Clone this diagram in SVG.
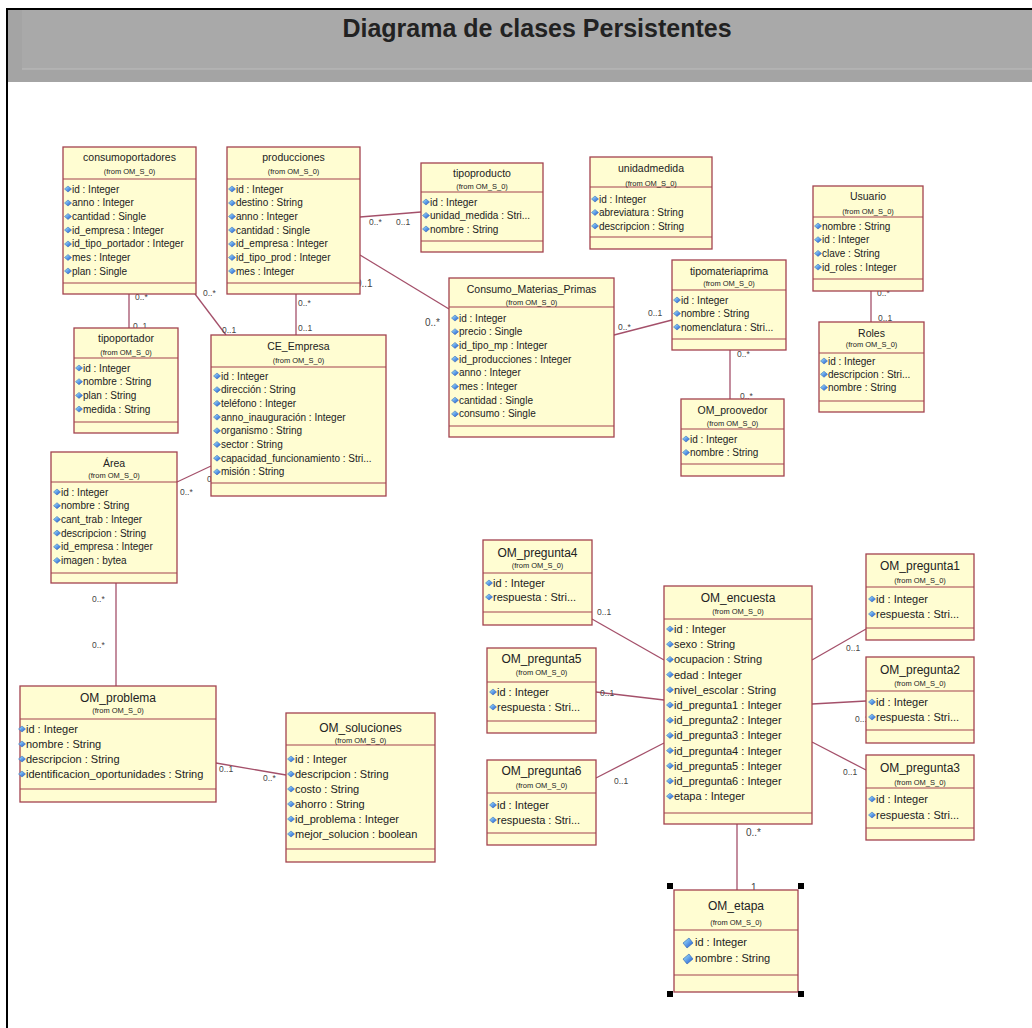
<svg xmlns="http://www.w3.org/2000/svg" xmlns:xlink="http://www.w3.org/1999/xlink" width="1032" height="1028" viewBox="0 0 1032 1028">
<style>
text{font-family:"Liberation Sans",Arial,sans-serif;fill:#222}
.box{fill:#fffdd2;stroke:#a3424f;stroke-width:1.3}
.sep{stroke:#a3424f;stroke-width:1.2}
.nm{font-size:10.5px;text-anchor:middle}
.nm2{font-size:12px;text-anchor:middle}
.fr{font-size:7.5px;text-anchor:middle}
.at{font-size:10px}
.at2{font-size:11px}
.ml{font-size:8.5px;fill:#444}
.ml2{font-size:10px;fill:#444}
#connectors line{stroke:#a4506a;stroke-width:1.3}
</style>
<defs>
<linearGradient id="dg" x1="0" y1="0" x2="1" y2="1">
<stop offset="0" stop-color="#a8f0ff"/>
<stop offset="1" stop-color="#1a4fd0"/>
</linearGradient>
<path id="dia" d="M0,-3 L3.5,0 L0,3 L-3.5,0 Z" fill="url(#dg)" stroke="#2a5fb0" stroke-width="0.5"/>
<path id="diaB" d="M1,-5 L5,0 L-1,5 L-5,0 Z" fill="url(#dg)" stroke="#2a5fb0" stroke-width="0.6"/>
</defs>

<rect x="0" y="0" width="1032" height="1028" fill="#ffffff"/>
<rect x="7" y="8" width="1025" height="74" fill="#a4a4a4"/>
<rect x="22" y="10" width="1010" height="59" fill="#a9a9a9"/>
<line x1="22" y1="69" x2="1032" y2="69" stroke="#bdbdbd" stroke-width="1"/>
<line x1="6" y1="9" x2="1032" y2="9" stroke="#000" stroke-width="2"/>
<line x1="7" y1="8" x2="7" y2="1028" stroke="#000" stroke-width="2"/>
<text x="537" y="37" font-size="25" font-weight="bold" text-anchor="middle" fill="#000">Diagrama de clases Persistentes</text>

<g id="connectors">
<line x1="129" y1="294" x2="129" y2="328"/>
<line x1="195" y1="294" x2="226" y2="335"/>
<line x1="296" y1="294" x2="296" y2="335"/>
<line x1="360" y1="217" x2="421" y2="212"/>
<line x1="360" y1="255" x2="449" y2="309"/>
<line x1="614" y1="335" x2="672" y2="320"/>
<line x1="730" y1="350" x2="730" y2="399"/>
<line x1="871" y1="291" x2="871" y2="322"/>
<line x1="177" y1="482" x2="211" y2="466"/>
<line x1="116" y1="583" x2="116" y2="686"/>
<line x1="216" y1="763" x2="286" y2="775"/>
<line x1="592" y1="619" x2="664" y2="660"/>
<line x1="596" y1="692" x2="664" y2="700"/>
<line x1="596" y1="778" x2="664" y2="743"/>
<line x1="812" y1="660" x2="866" y2="629"/>
<line x1="812" y1="704" x2="866" y2="701"/>
<line x1="812" y1="742" x2="866" y2="770"/>
<line x1="737" y1="824" x2="737" y2="890"/>
<text class="ml" x="135" y="300">0..*</text>
<text class="ml" x="133" y="329">0..1</text>
<text class="ml" x="203" y="296">0..*</text>
<text class="ml" x="222" y="333">0..1</text>
<text class="ml" x="298" y="306">0..*</text>
<text class="ml" x="298" y="331">0..1</text>
<text class="ml" x="369" y="225">0..*</text>
<text class="ml" x="396" y="225">0..1</text>
<text class="ml2" x="356" y="287">0..1</text>
<text class="ml2" x="425" y="326">0..*</text>
<text class="ml" x="618" y="330">0..*</text>
<text class="ml" x="648" y="316">0..1</text>
<text class="ml" x="737" y="357">0..*</text>
<text class="ml" x="740" y="399">0..*</text>
<text class="ml" x="877" y="296">0..*</text>
<text class="ml" x="878" y="321">0..1</text>
<text class="ml" x="180" y="495">0..*</text>
<text class="ml" x="207" y="482">0..1</text>
<text class="ml" x="92" y="602">0..*</text>
<text class="ml" x="92" y="648">0..*</text>
<text class="ml" x="219" y="772">0..1</text>
<text class="ml" x="263" y="781">0..*</text>
<text class="ml" x="597" y="615">0..1</text>
<text class="ml" x="600" y="696">0..1</text>
<text class="ml" x="614" y="784">0..1</text>
<text class="ml" x="846" y="651">0..1</text>
<text class="ml" x="855" y="722">0..1</text>
<text class="ml" x="843" y="775">0..1</text>
<text class="ml2" x="746" y="836">0..*</text>
<text class="ml2" x="751" y="891">1</text>
</g>

<g id="consumoportadores">
<rect class="box" x="63" y="147" width="133" height="147"/>
<line class="sep" x1="63" y1="179" x2="196" y2="179"/>
<line class="sep" x1="63" y1="283" x2="196" y2="283"/>
<text class="nm" x="129.5" y="161">consumoportadores</text>
<text class="fr" x="129.5" y="174">(from OM_S_0)</text>
<use href="#dia" x="68" y="189"/><text class="at" x="72" y="192.5">id : Integer</text>
<use href="#dia" x="68" y="203"/><text class="at" x="72" y="206.2">anno : Integer</text>
<use href="#dia" x="68" y="216.5"/><text class="at" x="72" y="219.9">cantidad : Single</text>
<use href="#dia" x="68" y="230"/><text class="at" x="72" y="233.6">id_empresa : Integer</text>
<use href="#dia" x="68" y="244"/><text class="at" x="72" y="247.3">id_tipo_portador : Integer</text>
<use href="#dia" x="68" y="257.5"/><text class="at" x="72" y="261">mes : Integer</text>
<use href="#dia" x="68" y="271"/><text class="at" x="72" y="274.7">plan : Single</text>
</g>

<g id="producciones">
<rect class="box" x="227" y="147" width="133" height="147"/>
<line class="sep" x1="227" y1="179" x2="360" y2="179"/>
<line class="sep" x1="227" y1="283" x2="360" y2="283"/>
<text class="nm" x="293.5" y="161">producciones</text>
<text class="fr" x="293.5" y="174">(from OM_S_0)</text>
<use href="#dia" x="232" y="189"/><text class="at" x="236" y="192.5">id : Integer</text>
<use href="#dia" x="232" y="203"/><text class="at" x="236" y="206.2">destino : String</text>
<use href="#dia" x="232" y="216.5"/><text class="at" x="236" y="219.9">anno : Integer</text>
<use href="#dia" x="232" y="230"/><text class="at" x="236" y="233.6">cantidad : Single</text>
<use href="#dia" x="232" y="244"/><text class="at" x="236" y="247.3">id_empresa : Integer</text>
<use href="#dia" x="232" y="257.5"/><text class="at" x="236" y="261">id_tipo_prod : Integer</text>
<use href="#dia" x="232" y="271"/><text class="at" x="236" y="274.7">mes : Integer</text>
</g>

<g id="tipoproducto">
<rect class="box" x="421" y="163" width="122" height="89"/>
<line class="sep" x1="421" y1="192" x2="543" y2="192"/>
<line class="sep" x1="421" y1="241" x2="543" y2="241"/>
<text class="nm" x="482" y="177">tipoproducto</text>
<text class="fr" x="482" y="189">(from OM_S_0)</text>
<use href="#dia" x="426" y="202"/><text class="at" x="430" y="205.5">id : Integer</text>
<use href="#dia" x="426" y="215.5"/><text class="at" x="430" y="219">unidad_medida : Stri...</text>
<use href="#dia" x="426" y="229"/><text class="at" x="430" y="232.5">nombre : String</text>
</g>

<g id="unidadmedida">
<rect class="box" x="590" y="157" width="122" height="92"/>
<line class="sep" x1="590" y1="187" x2="712" y2="187"/>
<line class="sep" x1="590" y1="237" x2="712" y2="237"/>
<text class="nm" x="651" y="172">unidadmedida</text>
<text class="fr" x="651" y="186">(from OM_S_0)</text>
<use href="#dia" x="595" y="199"/><text class="at" x="599" y="202.5">id : Integer</text>
<use href="#dia" x="595" y="212.5"/><text class="at" x="599" y="216">abreviatura : String</text>
<use href="#dia" x="595" y="226"/><text class="at" x="599" y="229.5">descripcion : String</text>
</g>

<g id="Usuario">
<rect class="box" x="813" y="186" width="110" height="105"/>
<line class="sep" x1="813" y1="217" x2="923" y2="217"/>
<line class="sep" x1="813" y1="279" x2="923" y2="279"/>
<text class="nm" x="868" y="200">Usuario</text>
<text class="fr" x="868" y="214">(from OM_S_0)</text>
<use href="#dia" x="818" y="226"/><text class="at" x="822" y="229.5">nombre : String</text>
<use href="#dia" x="818" y="239.7"/><text class="at" x="822" y="243.2">id : Integer</text>
<use href="#dia" x="818" y="253.4"/><text class="at" x="822" y="256.9">clave : String</text>
<use href="#dia" x="818" y="267.1"/><text class="at" x="822" y="270.6">id_roles : Integer</text>
</g>

<g id="Roles">
<rect class="box" x="819" y="322" width="105" height="90"/>
<line class="sep" x1="819" y1="353" x2="924" y2="353"/>
<line class="sep" x1="819" y1="401" x2="924" y2="401"/>
<text class="nm" x="871.5" y="337">Roles</text>
<text class="fr" x="871.5" y="347">(from OM_S_0)</text>
<use href="#dia" x="824" y="361"/><text class="at" x="828" y="364.5">id : Integer</text>
<use href="#dia" x="824" y="374.3"/><text class="at" x="828" y="377.8">descripcion : Stri...</text>
<use href="#dia" x="824" y="387.5"/><text class="at" x="828" y="391">nombre : String</text>
</g>

<g id="tipomateriaprima">
<rect class="box" x="672" y="260" width="114" height="90"/>
<line class="sep" x1="672" y1="290" x2="786" y2="290"/>
<line class="sep" x1="672" y1="339" x2="786" y2="339"/>
<text class="nm" x="729" y="275">tipomateriaprima</text>
<text class="fr" x="729" y="286">(from OM_S_0)</text>
<use href="#dia" x="677" y="300"/><text class="at" x="681" y="303.5">id : Integer</text>
<use href="#dia" x="677" y="313.5"/><text class="at" x="681" y="317">nombre : String</text>
<use href="#dia" x="677" y="327"/><text class="at" x="681" y="330.5">nomenclatura : Stri...</text>
</g>

<g id="Consumo_Materias_Primas">
<rect class="box" x="449" y="278" width="165" height="159"/>
<line class="sep" x1="449" y1="307" x2="614" y2="307"/>
<line class="sep" x1="449" y1="426" x2="614" y2="426"/>
<text class="nm" x="531.5" y="293">Consumo_Materias_Primas</text>
<text class="fr" x="531.5" y="305">(from OM_S_0)</text>
<use href="#dia" x="455" y="318"/><text class="at" x="459" y="321.5">id : Integer</text>
<use href="#dia" x="455" y="331.7"/><text class="at" x="459" y="335.2">precio : Single</text>
<use href="#dia" x="455" y="345.4"/><text class="at" x="459" y="348.9">id_tipo_mp : Integer</text>
<use href="#dia" x="455" y="359.1"/><text class="at" x="459" y="362.6">id_producciones : Integer</text>
<use href="#dia" x="455" y="372.8"/><text class="at" x="459" y="376.3">anno : Integer</text>
<use href="#dia" x="455" y="386.5"/><text class="at" x="459" y="390">mes : Integer</text>
<use href="#dia" x="455" y="400.2"/><text class="at" x="459" y="403.7">cantidad : Single</text>
<use href="#dia" x="455" y="413.9"/><text class="at" x="459" y="417.4">consumo : Single</text>
</g>

<g id="OM_proovedor">
<rect class="box" x="681" y="399" width="103" height="77"/>
<line class="sep" x1="681" y1="429" x2="784" y2="429"/>
<line class="sep" x1="681" y1="464" x2="784" y2="464"/>
<text class="nm" x="732.5" y="414">OM_proovedor</text>
<text class="fr" x="732.5" y="426">(from OM_S_0)</text>
<use href="#dia" x="686" y="439"/><text class="at" x="690" y="442.5">id : Integer</text>
<use href="#dia" x="686" y="452.5"/><text class="at" x="690" y="456">nombre : String</text>
</g>

<g id="tipoportador">
<rect class="box" x="74" y="328" width="104" height="105"/>
<line class="sep" x1="74" y1="358" x2="178" y2="358"/>
<line class="sep" x1="74" y1="422" x2="178" y2="422"/>
<text class="nm" x="126" y="342">tipoportador</text>
<text class="fr" x="126" y="355">(from OM_S_0)</text>
<use href="#dia" x="79" y="368"/><text class="at" x="83" y="371.5">id : Integer</text>
<use href="#dia" x="79" y="381.7"/><text class="at" x="83" y="385.2">nombre : String</text>
<use href="#dia" x="79" y="395.4"/><text class="at" x="83" y="398.9">plan : String</text>
<use href="#dia" x="79" y="409.1"/><text class="at" x="83" y="412.6">medida : String</text>
</g>

<g id="CE_Empresa">
<rect class="box" x="211" y="335" width="175" height="161"/>
<line class="sep" x1="211" y1="367" x2="386" y2="367"/>
<line class="sep" x1="211" y1="483" x2="386" y2="483"/>
<text class="nm" x="298.5" y="350" font-size="11.5">CE_Empresa</text>
<text class="fr" x="298.5" y="363">(from OM_S_0)</text>
<use href="#dia" x="217" y="376"/><text class="at" x="221" y="379.5" font-size="10.5">id : Integer</text>
<use href="#dia" x="217" y="389.7"/><text class="at" x="221" y="393.2" font-size="10.5">dirección : String</text>
<use href="#dia" x="217" y="403.4"/><text class="at" x="221" y="406.9" font-size="10.5">teléfono : Integer</text>
<use href="#dia" x="217" y="417.1"/><text class="at" x="221" y="420.6" font-size="10.5">anno_inauguración : Integer</text>
<use href="#dia" x="217" y="430.8"/><text class="at" x="221" y="434.3" font-size="10.5">organismo : String</text>
<use href="#dia" x="217" y="444.5"/><text class="at" x="221" y="448" font-size="10.5">sector : String</text>
<use href="#dia" x="217" y="458.2"/><text class="at" x="221" y="461.7" font-size="10.5">capacidad_funcionamiento : Stri...</text>
<use href="#dia" x="217" y="471.9"/><text class="at" x="221" y="475.4" font-size="10.5">misión : String</text>
</g>

<g id="Area">
<rect class="box" x="51" y="452" width="126" height="131"/>
<line class="sep" x1="51" y1="482" x2="177" y2="482"/>
<line class="sep" x1="51" y1="573" x2="177" y2="573"/>
<text class="nm" x="114" y="467">Área</text>
<text class="fr" x="114" y="478">(from OM_S_0)</text>
<use href="#dia" x="57" y="492"/><text class="at" x="61" y="495.5">id : Integer</text>
<use href="#dia" x="57" y="505.7"/><text class="at" x="61" y="509.2">nombre : String</text>
<use href="#dia" x="57" y="519.4"/><text class="at" x="61" y="522.9">cant_trab : Integer</text>
<use href="#dia" x="57" y="533.1"/><text class="at" x="61" y="536.6">descripcion : String</text>
<use href="#dia" x="57" y="546.8"/><text class="at" x="61" y="550.3">id_empresa : Integer</text>
<use href="#dia" x="57" y="560.5"/><text class="at" x="61" y="564">imagen : bytea</text>
</g>

<g id="OM_problema">
<rect class="box" x="20" y="686" width="196" height="116"/>
<line class="sep" x1="20" y1="719" x2="216" y2="719"/>
<line class="sep" x1="20" y1="789" x2="216" y2="789"/>
<text class="nm2" x="118" y="701.5">OM_problema</text>
<text class="fr" x="118" y="713">(from OM_S_0)</text>
<use href="#dia" x="22" y="729"/><text class="at2" x="26" y="733">id : Integer</text>
<use href="#dia" x="22" y="744"/><text class="at2" x="26" y="748">nombre : String</text>
<use href="#dia" x="22" y="759"/><text class="at2" x="26" y="763">descripcion : String</text>
<use href="#dia" x="22" y="774"/><text class="at2" x="26" y="778">identificacion_oportunidades : String</text>
</g>

<g id="OM_soluciones">
<rect class="box" x="286" y="713" width="149" height="149"/>
<line class="sep" x1="286" y1="745" x2="435" y2="745"/>
<line class="sep" x1="286" y1="849" x2="435" y2="849"/>
<text class="nm2" x="360.5" y="731.5">OM_soluciones</text>
<text class="fr" x="360.5" y="743">(from OM_S_0)</text>
<use href="#dia" x="291" y="759"/><text class="at2" x="295" y="763">id : Integer</text>
<use href="#dia" x="291" y="774"/><text class="at2" x="295" y="778">descripcion : String</text>
<use href="#dia" x="291" y="789"/><text class="at2" x="295" y="793">costo : String</text>
<use href="#dia" x="291" y="804"/><text class="at2" x="295" y="808">ahorro : String</text>
<use href="#dia" x="291" y="819"/><text class="at2" x="295" y="823">id_problema : Integer</text>
<use href="#dia" x="291" y="834"/><text class="at2" x="295" y="838">mejor_solucion : boolean</text>
</g>

<g id="OM_pregunta4">
<rect class="box" x="483" y="540" width="109" height="85"/>
<line class="sep" x1="483" y1="573" x2="592" y2="573"/>
<line class="sep" x1="483" y1="612" x2="592" y2="612"/>
<text class="nm2" x="537.5" y="556.5">OM_pregunta4</text>
<text class="fr" x="537.5" y="568">(from OM_S_0)</text>
<use href="#dia" x="489" y="583"/><text class="at2" x="493" y="587">id : Integer</text>
<use href="#dia" x="489" y="597"/><text class="at2" x="493" y="601">respuesta : Stri...</text>
</g>

<g id="OM_pregunta5">
<rect class="box" x="487" y="648" width="109" height="85"/>
<line class="sep" x1="487" y1="682" x2="596" y2="682"/>
<line class="sep" x1="487" y1="721" x2="596" y2="721"/>
<text class="nm2" x="541.5" y="662.5">OM_pregunta5</text>
<text class="fr" x="541.5" y="675">(from OM_S_0)</text>
<use href="#dia" x="493" y="692"/><text class="at2" x="497" y="696">id : Integer</text>
<use href="#dia" x="493" y="707"/><text class="at2" x="497" y="711">respuesta : Stri...</text>
</g>

<g id="OM_pregunta6">
<rect class="box" x="487" y="760" width="109" height="85"/>
<line class="sep" x1="487" y1="793" x2="596" y2="793"/>
<line class="sep" x1="487" y1="833" x2="596" y2="833"/>
<text class="nm2" x="541.5" y="774.5">OM_pregunta6</text>
<text class="fr" x="541.5" y="788">(from OM_S_0)</text>
<use href="#dia" x="493" y="805"/><text class="at2" x="497" y="809">id : Integer</text>
<use href="#dia" x="493" y="820"/><text class="at2" x="497" y="824">respuesta : Stri...</text>
</g>

<g id="OM_encuesta">
<rect class="box" x="664" y="586" width="148" height="238"/>
<line class="sep" x1="664" y1="619" x2="812" y2="619"/>
<line class="sep" x1="664" y1="813" x2="812" y2="813"/>
<text class="nm2" x="738" y="601.5">OM_encuesta</text>
<text class="fr" x="738" y="614">(from OM_S_0)</text>
<use href="#dia" x="670" y="629"/><text class="at2" x="674" y="633">id : Integer</text>
<use href="#dia" x="670" y="644.2"/><text class="at2" x="674" y="648.2">sexo : String</text>
<use href="#dia" x="670" y="659.4"/><text class="at2" x="674" y="663.4">ocupacion : String</text>
<use href="#dia" x="670" y="674.6"/><text class="at2" x="674" y="678.6">edad : Integer</text>
<use href="#dia" x="670" y="689.8"/><text class="at2" x="674" y="693.8">nivel_escolar : String</text>
<use href="#dia" x="670" y="705"/><text class="at2" x="674" y="709">id_pregunta1 : Integer</text>
<use href="#dia" x="670" y="720.2"/><text class="at2" x="674" y="724.2">id_pregunta2 : Integer</text>
<use href="#dia" x="670" y="735.4"/><text class="at2" x="674" y="739.4">id_pregunta3 : Integer</text>
<use href="#dia" x="670" y="750.6"/><text class="at2" x="674" y="754.6">id_pregunta4 : Integer</text>
<use href="#dia" x="670" y="765.8"/><text class="at2" x="674" y="769.8">id_pregunta5 : Integer</text>
<use href="#dia" x="670" y="781"/><text class="at2" x="674" y="785">id_pregunta6 : Integer</text>
<use href="#dia" x="670" y="796.2"/><text class="at2" x="674" y="800.2">etapa : Integer</text>
</g>

<g id="OM_pregunta1">
<rect class="box" x="866" y="554" width="108" height="86"/>
<line class="sep" x1="866" y1="587" x2="974" y2="587"/>
<line class="sep" x1="866" y1="628" x2="974" y2="628"/>
<text class="nm2" x="920" y="569.5">OM_pregunta1</text>
<text class="fr" x="920" y="583">(from OM_S_0)</text>
<use href="#dia" x="872" y="599"/><text class="at2" x="876" y="603">id : Integer</text>
<use href="#dia" x="872" y="614"/><text class="at2" x="876" y="618">respuesta : Stri...</text>
</g>

<g id="OM_pregunta2">
<rect class="box" x="866" y="657" width="108" height="86"/>
<line class="sep" x1="866" y1="691" x2="974" y2="691"/>
<line class="sep" x1="866" y1="730" x2="974" y2="730"/>
<text class="nm2" x="920" y="673.5">OM_pregunta2</text>
<text class="fr" x="920" y="686">(from OM_S_0)</text>
<use href="#dia" x="872" y="702"/><text class="at2" x="876" y="706">id : Integer</text>
<use href="#dia" x="872" y="717"/><text class="at2" x="876" y="721">respuesta : Stri...</text>
</g>

<g id="OM_pregunta3">
<rect class="box" x="866" y="755" width="108" height="85"/>
<line class="sep" x1="866" y1="788" x2="974" y2="788"/>
<line class="sep" x1="866" y1="828" x2="974" y2="828"/>
<text class="nm2" x="920" y="771.5">OM_pregunta3</text>
<text class="fr" x="920" y="785">(from OM_S_0)</text>
<use href="#dia" x="872" y="799"/><text class="at2" x="876" y="803">id : Integer</text>
<use href="#dia" x="872" y="815"/><text class="at2" x="876" y="819">respuesta : Stri...</text>
</g>

<g id="OM_etapa">
<rect class="box" x="674" y="890" width="124" height="102"/>
<line class="sep" x1="674" y1="930" x2="798" y2="930"/>
<line class="sep" x1="674" y1="975" x2="798" y2="975"/>
<text class="nm2" x="736" y="909.5">OM_etapa</text>
<text class="fr" x="736" y="925">(from OM_S_0)</text>
<use href="#diaB" x="688" y="943"/><text class="at2" x="695" y="946">id : Integer</text>
<use href="#diaB" x="688" y="959"/><text class="at2" x="695" y="962">nombre : String</text>
<rect x="667" y="883" width="6" height="6" fill="#000"/>
<rect x="798" y="883" width="6" height="6" fill="#000"/>
<rect x="667" y="991" width="6" height="6" fill="#000"/>
<rect x="798" y="991" width="6" height="6" fill="#000"/>
</g>
</svg>
